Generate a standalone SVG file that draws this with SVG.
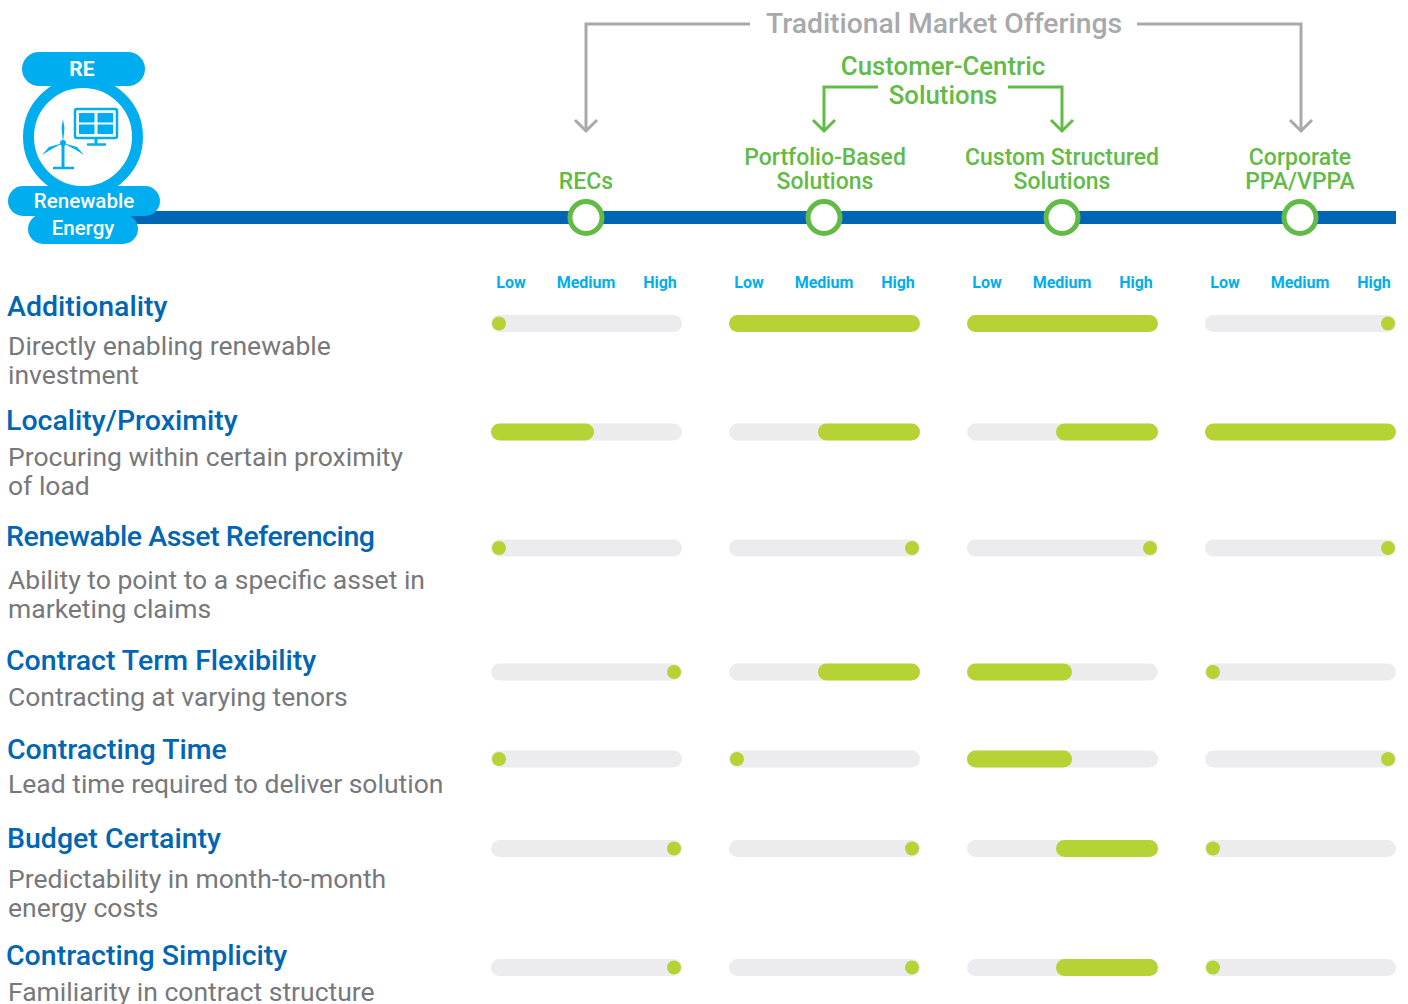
<svg xmlns="http://www.w3.org/2000/svg" width="1408" height="1004" viewBox="0 0 1408 1004">
<defs>
<style>
.t{font-family:Roboto,"Liberation Sans",sans-serif}
.title{font-family:Roboto,"Liberation Sans",sans-serif;font-size:28.5px;font-weight:500;fill:#0066b3}
.desc{font-family:Roboto,"Liberation Sans",sans-serif;font-size:26.5px;fill:#77787b}
.lmh{font-family:Roboto,"Liberation Sans",sans-serif;font-size:16px;font-weight:700;fill:#00aeef;text-anchor:middle}
.col{font-family:Roboto,"Liberation Sans",sans-serif;font-size:23px;font-weight:500;fill:#62bb46;text-anchor:middle}
.big{font-size:25.8px}
.track{fill:#ececee}
.fill{fill:#b5d334}
.gray{fill:none;stroke:#a7a9ac;stroke-width:3}
.green{fill:none;stroke:#62bb46;stroke-width:3}
.node{fill:#fff;stroke:#62bb46;stroke-width:5}
</style>
</defs>
<rect width="1408" height="1004" fill="#fff"/>

<!-- timeline -->
<rect x="130" y="211" width="1266" height="13" fill="#0066b3"/>

<!-- RE logo -->
<g id="re-logo">
<circle cx="83" cy="137" r="54.5" fill="#fff" stroke="#00aeef" stroke-width="11"/>
<rect x="22" y="52" width="123" height="34" rx="17" fill="#00aeef"/>
<rect x="8" y="186" width="152" height="30" rx="15" fill="#00aeef"/>
<rect x="28" y="214" width="110" height="30" rx="15" fill="#00aeef"/>
<text x="82" y="76" class="t" font-size="21" font-weight="700" fill="#fff" text-anchor="middle">RE</text>
<text x="84" y="208" class="t" font-size="20.5" font-weight="500" fill="#fff" text-anchor="middle">Renewable</text>
<text x="83" y="235" class="t" font-size="20.5" font-weight="500" fill="#fff" text-anchor="middle">Energy</text>
<!-- solar panel -->
<rect x="75" y="109" width="42" height="29" rx="2" fill="none" stroke="#00aeef" stroke-width="2.5"/>
<rect x="79" y="113" width="15.5" height="9.5" fill="#00aeef"/>
<rect x="97.5" y="113" width="15.5" height="9.5" fill="#00aeef"/>
<rect x="79" y="124.5" width="15.5" height="9.5" fill="#00aeef"/>
<rect x="97.5" y="124.5" width="15.5" height="9.5" fill="#00aeef"/>
<line x1="96" y1="138" x2="96" y2="144" stroke="#00aeef" stroke-width="3"/>
<line x1="87" y1="144.5" x2="106" y2="144.5" stroke="#00aeef" stroke-width="2.5"/>
<!-- turbine -->
<line x1="63" y1="143" x2="63" y2="168" stroke="#00aeef" stroke-width="3"/>
<line x1="53" y1="168" x2="74" y2="168" stroke="#00aeef" stroke-width="2.5"/>
<path d="M63 143 L61.5 128 L63 119 L64.5 128 Z" fill="#00aeef"/>
<path d="M63 143 L50 150 L42 155 L49 147 Z" fill="#00aeef"/>
<path d="M63 143 L76 150 L84 155 L77 147 Z" fill="#00aeef"/>
<circle cx="63" cy="143" r="3" fill="#00aeef"/>
</g>

<!-- connectors -->
<g id="connectors">
<polyline class="gray" points="750,24 586,24 586,131"/>
<polyline class="gray" points="575,120 586,131 597,120"/>
<polyline class="gray" points="1137,24 1301,24 1301,131"/>
<polyline class="gray" points="1290,120 1301,131 1312,120"/>
<polyline class="green" points="878,87 824,87 824,131"/>
<polyline class="green" points="813,120 824,131 835,120"/>
<polyline class="green" points="1008,87 1062,87 1062,131"/>
<polyline class="green" points="1051,120 1062,131 1073,120"/>
</g>

<g id="header-traditional">
<text x="944" y="33" class="t" font-size="28.3" font-weight="500" fill="#a7a9ac" text-anchor="middle">Traditional Market Offerings</text>
</g>
<g id="header-customer">
<text x="943" y="75" class="col big">Customer-Centric</text>
<text x="943" y="104" class="col big">Solutions</text>
</g>

<!-- column nodes -->
<g id="col-recs">
<text x="586" y="189" class="col">RECs</text>
<circle cx="586" cy="217.5" r="16" class="node"/>
</g>
<g id="col-portfolio">
<text x="825" y="165" class="col">Portfolio-Based</text>
<text x="825" y="189" class="col">Solutions</text>
<circle cx="824" cy="217.5" r="16" class="node"/>
</g>
<g id="col-custom">
<text x="1062" y="165" class="col">Custom Structured</text>
<text x="1062" y="189" class="col">Solutions</text>
<circle cx="1062" cy="217.5" r="16" class="node"/>
</g>
<g id="col-ppa">
<text x="1300" y="165" class="col">Corporate</text>
<text x="1300" y="189" class="col">PPA/VPPA</text>
<circle cx="1300" cy="217.5" r="16" class="node"/>
</g>

<!-- scale labels -->
<g id="scale-labels">
<text x="511" y="288" class="lmh">Low</text><text x="586" y="288" class="lmh">Medium</text><text x="660" y="288" class="lmh">High</text>
<text x="749" y="288" class="lmh">Low</text><text x="824" y="288" class="lmh">Medium</text><text x="898" y="288" class="lmh">High</text>
<text x="987" y="288" class="lmh">Low</text><text x="1062" y="288" class="lmh">Medium</text><text x="1136" y="288" class="lmh">High</text>
<text x="1225" y="288" class="lmh">Low</text><text x="1300" y="288" class="lmh">Medium</text><text x="1374" y="288" class="lmh">High</text>
</g>

<!-- Row 1 -->
<g id="row-additionality">
<text x="7" y="316" class="title">Additionality</text>
<text x="8" y="355" class="desc">Directly enabling renewable</text>
<text x="8" y="384" class="desc">investment</text>
<rect x="491" y="315" width="191" height="17" rx="8.5" class="track"/><circle cx="499" cy="323.5" r="7" class="fill"/>
<rect x="729" y="315" width="191" height="17" rx="8.5" class="fill"/>
<rect x="967" y="315" width="191" height="17" rx="8.5" class="fill"/>
<rect x="1205" y="315" width="191" height="17" rx="8.5" class="track"/><circle cx="1388" cy="323.5" r="7" class="fill"/>
</g>

<!-- Row 2 -->
<g id="row-locality">
<text x="6" y="430" class="title">Locality/Proximity</text>
<text x="8" y="466" class="desc">Procuring within certain proximity</text>
<text x="8" y="495" class="desc">of load</text>
<rect x="491" y="423.5" width="191" height="17" rx="8.5" class="track"/><rect x="491" y="423.5" width="103" height="17" rx="8.5" class="fill"/>
<rect x="729" y="423.5" width="191" height="17" rx="8.5" class="track"/><rect x="818" y="423.5" width="102" height="17" rx="8.5" class="fill"/>
<rect x="967" y="423.5" width="191" height="17" rx="8.5" class="track"/><rect x="1056" y="423.5" width="102" height="17" rx="8.5" class="fill"/>
<rect x="1205" y="423.5" width="191" height="17" rx="8.5" class="fill"/>
</g>

<!-- Row 3 -->
<g id="row-asset">
<text x="6" y="546" class="title" textLength="369">Renewable Asset Referencing</text>
<text x="8" y="589" class="desc">Ability to point to a specific asset in</text>
<text x="8" y="618" class="desc">marketing claims</text>
<rect x="491" y="539.5" width="191" height="17" rx="8.5" class="track"/><circle cx="499" cy="548" r="7" class="fill"/>
<rect x="729" y="539.5" width="191" height="17" rx="8.5" class="track"/><circle cx="912" cy="548" r="7" class="fill"/>
<rect x="967" y="539.5" width="191" height="17" rx="8.5" class="track"/><circle cx="1150" cy="548" r="7" class="fill"/>
<rect x="1205" y="539.5" width="191" height="17" rx="8.5" class="track"/><circle cx="1388" cy="548" r="7" class="fill"/>
</g>

<!-- Row 4 -->
<g id="row-term">
<text x="6" y="670" class="title">Contract Term Flexibility</text>
<text x="8" y="706" class="desc">Contracting at varying tenors</text>
<rect x="491" y="663.5" width="191" height="17" rx="8.5" class="track"/><circle cx="674" cy="672" r="7" class="fill"/>
<rect x="729" y="663.5" width="191" height="17" rx="8.5" class="track"/><rect x="818" y="663.5" width="102" height="17" rx="8.5" class="fill"/>
<rect x="967" y="663.5" width="191" height="17" rx="8.5" class="track"/><rect x="967" y="663.5" width="105" height="17" rx="8.5" class="fill"/>
<rect x="1205" y="663.5" width="191" height="17" rx="8.5" class="track"/><circle cx="1213" cy="672" r="7" class="fill"/>
</g>

<!-- Row 5 -->
<g id="row-time">
<text x="7" y="759" class="title">Contracting Time</text>
<text x="8" y="793" class="desc">Lead time required to deliver solution</text>
<rect x="491" y="750.5" width="191" height="17" rx="8.5" class="track"/><circle cx="499" cy="759" r="7" class="fill"/>
<rect x="729" y="750.5" width="191" height="17" rx="8.5" class="track"/><circle cx="737" cy="759" r="7" class="fill"/>
<rect x="967" y="750.5" width="191" height="17" rx="8.5" class="track"/><rect x="967" y="750.5" width="105" height="17" rx="8.5" class="fill"/>
<rect x="1205" y="750.5" width="191" height="17" rx="8.5" class="track"/><circle cx="1388" cy="759" r="7" class="fill"/>
</g>

<!-- Row 6 -->
<g id="row-budget">
<text x="7" y="848" class="title">Budget Certainty</text>
<text x="8" y="888" class="desc">Predictability in month-to-month</text>
<text x="8" y="917" class="desc">energy costs</text>
<rect x="491" y="840" width="191" height="17" rx="8.5" class="track"/><circle cx="674" cy="848.5" r="7" class="fill"/>
<rect x="729" y="840" width="191" height="17" rx="8.5" class="track"/><circle cx="912" cy="848.5" r="7" class="fill"/>
<rect x="967" y="840" width="191" height="17" rx="8.5" class="track"/><rect x="1056" y="840" width="102" height="17" rx="8.5" class="fill"/>
<rect x="1205" y="840" width="191" height="17" rx="8.5" class="track"/><circle cx="1213" cy="848.5" r="7" class="fill"/>
</g>

<!-- Row 7 -->
<g id="row-simplicity">
<text x="6" y="965" class="title">Contracting Simplicity</text>
<text x="8" y="1001" class="desc">Familiarity in contract structure</text>
<rect x="491" y="959" width="191" height="17" rx="8.5" class="track"/><circle cx="674" cy="967.5" r="7" class="fill"/>
<rect x="729" y="959" width="191" height="17" rx="8.5" class="track"/><circle cx="912" cy="967.5" r="7" class="fill"/>
<rect x="967" y="959" width="191" height="17" rx="8.5" class="track"/><rect x="1056" y="959" width="102" height="17" rx="8.5" class="fill"/>
<rect x="1205" y="959" width="191" height="17" rx="8.5" class="track"/><circle cx="1213" cy="967.5" r="7" class="fill"/>
</g>
</svg>
